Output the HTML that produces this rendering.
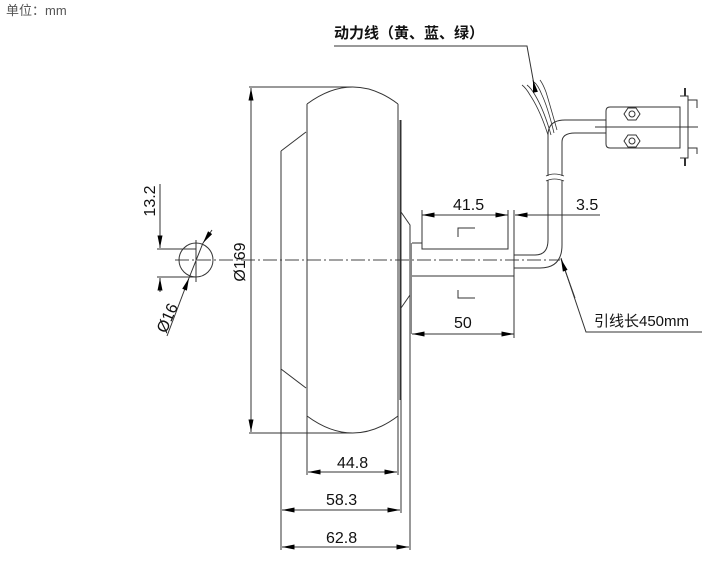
<!DOCTYPE html>
<html><head><meta charset="utf-8"><style>
html,body{margin:0;padding:0;background:#fff;width:722px;height:562px;overflow:hidden}
svg{display:block}
text{font-family:"Liberation Sans","Noto Sans CJK SC",sans-serif;fill:#111}
</style></head><body>
<svg width="722" height="562" viewBox="0 0 722 562" xmlns="http://www.w3.org/2000/svg">
<defs>
<marker id="a" viewBox="0 0 10 4" refX="10" refY="2" markerWidth="16" markerHeight="5" markerUnits="userSpaceOnUse" orient="auto-start-reverse"><path d="M0,0L10,2L0,4z" fill="#000"/></marker>
</defs>
<text x="6" y="15" font-size="13" fill="#555" style="fill:#555">单位：mm</text>
<g stroke="#333" stroke-width="1" fill="none">
<line x1="175" y1="260" x2="560" y2="260" stroke-dasharray="14,3,2,3" stroke="#444"/>
<path d="M307,104 Q353,70 398,104"/>
<path d="M307,416 Q353,450 398,416"/>
<line x1="307" y1="104" x2="307" y2="475"/>
<line x1="398" y1="104" x2="398" y2="475"/>
<line x1="400" y1="120" x2="400" y2="400"/>
<line x1="401" y1="120" x2="401" y2="513"/>
<line x1="281" y1="151" x2="281" y2="550"/>
<line x1="281" y1="151" x2="306" y2="132"/>
<line x1="281" y1="369" x2="306" y2="388"/>
<path d="M401,212 L410,225 L410,550"/>
<path d="M401,308 L410,295"/>
<line x1="411" y1="243" x2="411" y2="334" stroke="#888" stroke-width="2"/>
<line x1="412" y1="243" x2="422" y2="243"/>
<path d="M422,210 V249 H508 V210"/>
<line x1="412" y1="276" x2="514" y2="276"/>
<line x1="514" y1="243" x2="514" y2="338"/>
<line x1="514" y1="210" x2="514" y2="243"/>
<path d="M458,237 V228 H475"/><path d="M458,290 V298 H475"/>
<path d="M514,255 H535 Q548,255 548,240 V180"/>
<path d="M514,268 H540 Q562,268 562,245 V180"/>
<path d="M548,176 V135 Q548,120 565,120 H606"/>
<path d="M562,176 V142 Q562,133 575,133 H606"/>
<path d="M546,181 q8,-4 18,0 M546,176 q8,-4 18,0" stroke-width="0.8"/>
<path d="M548,135 Q540,110 530,95 Q526,88 522,85" stroke-width="0.8"/>
<path d="M551,135 Q544,110 535,95 Q531,88 527,85" stroke-width="0.8"/>
<path d="M554,133 Q548,108 542,95 Q538,85 534,82" stroke-width="0.8"/>
<path d="M557,130 Q550,105 546,92 Q543,84 540,80" stroke-width="0.8"/>
<path d="M610,107 H680 V148 H610 Q606,148 606,144 V111 Q606,107 610,107z"/>
<line x1="595" y1="127" x2="698" y2="127"/>
<path d="M680,96 H688 V158 H680 M688,100 H697 V108 M688,148 H697 V154"/>
<path d="M685,96 V88 M685,158 V166" stroke-width="2"/>
<polygon points="628,108 636,108 640,114 636,120 628,120 624,114"/>
<circle cx="632" cy="114" r="3"/>
<polygon points="628,135 636,135 640,141 636,147 628,147 624,141"/>
<circle cx="632" cy="141" r="3"/>
<path d="M334,46 H527 L535,90"/>
<path d="M561,258 L586,332 H702"/>
<line x1="249" y1="87" x2="353" y2="87"/>
<line x1="249" y1="433" x2="353" y2="433"/>
<line x1="251" y1="88" x2="251" y2="432" marker-start="url(#a)" marker-end="url(#a)"/>
<line x1="422" y1="215" x2="508" y2="215" marker-start="url(#a)" marker-end="url(#a)"/>
<line x1="600" y1="215" x2="515" y2="215" marker-end="url(#a)"/>
<line x1="412" y1="334" x2="514" y2="334" marker-start="url(#a)" marker-end="url(#a)"/>
<line x1="308" y1="472" x2="397" y2="472" marker-start="url(#a)" marker-end="url(#a)"/>
<line x1="282" y1="510" x2="400" y2="510" marker-start="url(#a)" marker-end="url(#a)"/>
<line x1="282" y1="547" x2="409" y2="547" marker-start="url(#a)" marker-end="url(#a)"/>
<circle cx="196" cy="260" r="17"/>
<line x1="157" y1="249" x2="196" y2="249"/>
<line x1="157" y1="277" x2="196" y2="277"/>
<line x1="196" y1="240" x2="196" y2="282"/>
<line x1="160" y1="184" x2="160" y2="248" marker-end="url(#a)"/>
<line x1="160" y1="292" x2="160" y2="278" marker-end="url(#a)"/>
<line x1="167" y1="336" x2="189" y2="278" marker-end="url(#a)"/>
<line x1="189" y1="278" x2="203" y2="243"/>
<line x1="212" y1="230" x2="203" y2="243" marker-end="url(#a)"/>
<path d="M535,90 L533,80" marker-end="url(#a)"/>
<path d="M575,298 L561,259" marker-end="url(#a)"/>
</g>
<g font-size="16">
<text x="334" y="38" font-size="15" font-weight="bold">动力线（黄、蓝、绿）</text>
<text x="453" y="210">41.5</text>
<text x="576" y="210">3.5</text>
<text x="454" y="328">50</text>
<text x="594" y="326" font-size="15">引线长450mm</text>
<text x="337" y="468">44.8</text>
<text x="326" y="505">58.3</text>
<text x="326" y="543">62.8</text>
<text transform="translate(245,262) rotate(-90)" text-anchor="middle">Ø169</text>
<text transform="translate(155,201) rotate(-90)" text-anchor="middle">13.2</text>
<text transform="translate(166,334) rotate(-66)" text-anchor="start">Ø16</text>
</g>
</svg>
</body></html>
